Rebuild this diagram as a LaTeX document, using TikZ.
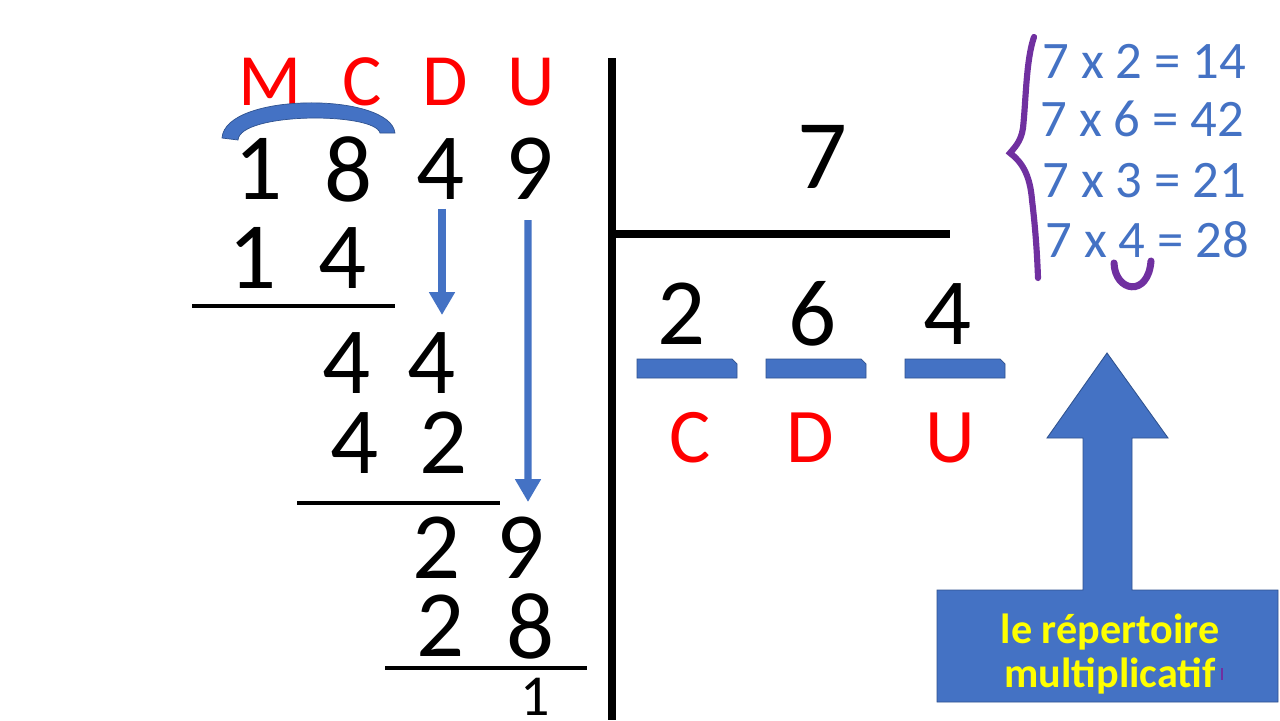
\documentclass[tikz,border=0pt]{standalone}
\usepackage{fontspec}
\setmainfont{Carlito}
\usepackage{xcolor}
\usetikzlibrary{arrows.meta}
\definecolor{pptblue}{HTML}{4472C4}
\definecolor{pptedge}{HTML}{2F528F}
\definecolor{pptred}{HTML}{FF0000}
\definecolor{pptpurple}{HTML}{7030A0}
\definecolor{pptyellow}{HTML}{FFFF00}

\begin{document}
\begin{tikzpicture}[x=0.02cm,y=-0.02cm,
    digit/.style={inner sep=0pt, font=\fontsize{54}{60}\selectfont},
    rank/.style={inner sep=0pt, text=pptred, font=\fontsize{42}{48}\selectfont},
    tabline/.style={inner sep=0pt, anchor=west, text=pptblue, font=\fontsize{30}{34}\selectfont},
    subline/.style={line width=2.8pt},
    downarr/.style={pptblue, line width=4pt, -{Triangle[width=14pt,length=13pt]}}]
        \useasboundingbox[fill=white] (0,0) rectangle (1280,720);

        % dividend and ranks
        \node[rank] (rM) at (270,82) {M};
        \node[rank] (rC) at (362,82) {C};
        \node[rank] (rD) at (445,82) {D};
        \node[rank] (rU) at (531,82) {U};
        \filldraw[fill=pptblue, draw=pptedge, line width=0.4pt]
            (222,138) .. controls (225,92) and (390,92) .. (395,133)
            -- (380,133) .. controls (375,112) and (240,112) .. (238,140) -- cycle;
        \node[digit] (n1) at (259,169) {1};
        \node[digit] (n8) at (349,169) {8};
        \node[digit] (n4) at (441,169) {4};
        \node[digit] (n9) at (530,169) {9};

        % subtractions
        \node[digit] (s14a) at (253,258) {1};
        \node[digit] (s14b) at (343,258) {4};
        \draw[subline] (192,306) -- (395,306);
        \node[digit] (s44a) at (347,363) {4};
        \node[digit] (s44b) at (432,363) {4};
        \node[digit] (s42a) at (355,443) {4};
        \node[digit] (s42b) at (444,443) {2};
        \draw[subline] (297,503) -- (500,503);
        \node[digit] (s29a) at (437,548) {2};
        \node[digit] (s29b) at (521,548) {9};
        \node[digit] (s28a) at (441,626) {2};
        \node[digit] (s28b) at (531,626) {8};
        \draw[subline] (385,668) -- (587,668);
        \node[digit, font=\fontsize{33}{36}\selectfont] (rest) at (535,697) {1};

        % bring-down arrows
        \coordinate (tipD) at (442,315);
        \coordinate (tipU) at (528,502);
        \draw[downarr] ([xshift=0.02cm,yshift=-0.18cm]n4.south) -- (tipD);
        \draw[downarr] ([xshift=-0.04cm,yshift=-0.4cm]n9.south) -- (tipU);

        % divisor and quotient
        \draw[line width=4pt] (612,58) -- (612,720);
        \draw[line width=4pt] (612,234) -- (950,234);
        \node[digit, font=\fontsize{56}{60}\selectfont] (div) at (822,157) {7};
        \node[digit] (q2) at (682,314) {2};
        \node[digit] (q6) at (813,314) {6};
        \node[digit] (q4) at (948,314) {4};
        \foreach \x in {637,766,905}
            \filldraw[fill=pptblue, draw=pptedge, line width=0.4pt]
                (\x,378) -- (\x,359) -- (\x+95,359) -- (\x+100,364) -- (\x+100,378) -- cycle;
        \node[rank, font=\fontsize{44}{48}\selectfont] (qC) at (690,438) {C};
        \node[rank, font=\fontsize{44}{48}\selectfont] (qD) at (810,438) {D};
        \node[rank, font=\fontsize{44}{48}\selectfont] (qU) at (950,438) {U};

        % times table
        \node[tabline] (t2) at (1042,61) {7 x 2 = 14};
        \node[tabline] (t6) at (1040,119) {7 x 6 = 42};
        \node[tabline] (t3) at (1042,181) {7 x 3 = 21};
        \node[tabline] (t4) at (1045,240) {7 x 4 = 28};
        \draw[pptpurple, line width=3.5pt, line cap=round]
            (1034,37) .. controls (1026,60) and (1026,100) .. (1023,128)
            .. controls (1021,142) and (1014,148) .. (1010,153)
            .. controls (1022,162) and (1030,175) .. (1032,200)
            .. controls (1035,225) and (1037,250) .. (1038,278);
        \draw[pptpurple, line width=4pt, line cap=round]
            (1114,263) .. controls (1115,292) and (1148,298) .. (1151,261);

        % arrow callout
        \filldraw[fill=pptblue, draw=pptedge, line width=0.5pt]
            (937,702) -- (937,590) -- (1083,590) -- (1083,438) -- (1047,438) -- (1107,353)
            -- (1168,438) -- (1132,438) -- (1132,590) -- (1278,590) -- (1278,702) -- cycle;
        \node[anchor=base, inner sep=0pt, text=pptyellow, font=\fontsize{24}{25}\selectfont\bfseries] (rep1) at (1110,643) {le répertoire};
        \node[anchor=base, inner sep=0pt, text=pptyellow, font=\fontsize{24}{25}\selectfont\bfseries] (rep2) at (1110,687) {multiplicatif};
        \draw[pptpurple, line width=1pt] (1222,668) -- (1222,680);
    \end{tikzpicture}
\end{document}
